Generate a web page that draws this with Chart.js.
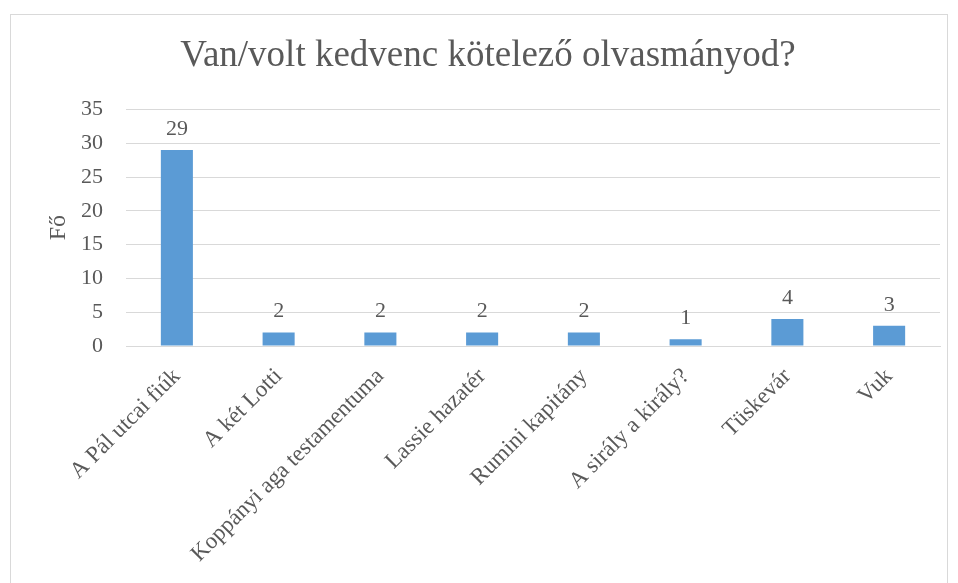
<!DOCTYPE html>
<html>
<head>
<meta charset="utf-8">
<script src="https://cdn.jsdelivr.net/npm/chart.js@4"></script>
<style>
  html, body { margin: 0; padding: 0; background: #fff; overflow: hidden; }
  #frame { position: absolute; left: 10px; top: 14px; width: 936px; height: 600px; border: 1px solid #d9d9d9; }
  #wrap { position: absolute; left: 0; top: 0; width: 958px; height: 583px; }
</style>
</head>
<body>
<div id="frame"></div>
<div id="wrap"><canvas id="bookChart" width="958" height="583"></canvas></div>
<script>
  const books = ['A Pál utcai fiúk', 'A két Lotti', 'Koppányi aga testamentuma', 'Lassie hazatér',
    'Rumini kapitány', 'A sirály a király?', 'Tüskevár', 'Vuk'];
  const votes = [29, 2, 2, 2, 2, 1, 4, 3];
  const yTicks = [0, 5, 10, 15, 20, 25, 30, 35];

  const serif = '"Liberation Serif", "Times New Roman", serif';
  const grey = '#595959';

  // value labels above the bars
  const valueLabels = {
    id: 'valueLabels',
    afterDatasetsDraw(chart) {
      const c = chart.ctx;
      const meta = chart.getDatasetMeta(0);
      c.save();
      c.font = '22px ' + serif;
      c.fillStyle = grey;
      c.textAlign = 'center';
      c.textBaseline = 'alphabetic';
      meta.data.forEach((bar, i) => {
        c.fillText(votes[i], bar.x, bar.y - 15);
      });
      c.restore();
    }
  };

  const ctx = document.getElementById('bookChart');
  new Chart(ctx, {
    type: 'bar',
    data: {
      labels: books,
      datasets: [{
        data: votes,
        backgroundColor: '#5b9bd5',
        barPercentage: 0.315,
        categoryPercentage: 1
      }]
    },
    options: {
      responsive: false,
      animation: false,
      devicePixelRatio: 1,
      layout: { padding: { left: 36, right: 18, top: 0, bottom: 0 } },
      plugins: {
        legend: { display: false },
        tooltip: { enabled: false },
        title: {
          display: true,
          text: 'Van/volt kedvenc kötelező olvasmányod?',
          color: grey,
          font: { family: serif, size: 37, weight: 'normal' },
          padding: { top: 34, bottom: 31 }
        }
      },
      scales: {
        y: {
          min: 0, max: 35,
          afterBuildTicks(scale) { scale.ticks = yTicks.map(v => ({ value: v })); },
          afterFit(scale) { scale.width = 90; },
          ticks: { color: grey, font: { family: serif, size: 22 }, padding: 23 },
          grid: { color: '#d9d9d9', drawTicks: false },
          border: { display: false },
          title: {
            display: true, text: 'Fő', color: grey,
            font: { family: serif, size: 24 }, padding: { top: 8, bottom: 0 }
          }
        },
        x: {
          afterFit(scale) { scale.height = 237; },
          ticks: {
            color: grey, font: { family: serif, size: 23 },
            minRotation: 45, maxRotation: 45, padding: 17
          },
          grid: { display: false, drawTicks: false },
          border: { display: true, color: '#d9d9d9' }
        }
      }
    },
    plugins: [valueLabels]
  });
</script>
</body>
</html>
